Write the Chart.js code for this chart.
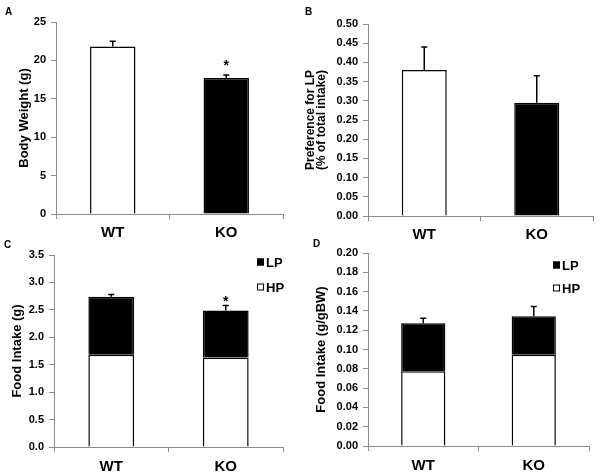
<!DOCTYPE html>
<html>
<head>
<meta charset="utf-8">
<script src="https://cdn.jsdelivr.net/npm/chart.js@4.4.1/dist/chart.umd.min.js"></script>
<style>
  body { margin: 0; background: #fff; width: 600px; height: 475px; position: relative; overflow: hidden; }
  canvas { position: absolute; }
</style>
</head>
<body>
<canvas id="chartA" width="300" height="250" style="left:0;top:0"></canvas>
<canvas id="chartB" width="300" height="250" style="left:300px;top:0"></canvas>
<canvas id="chartC" width="300" height="238" style="left:0;top:237px"></canvas>
<canvas id="chartD" width="300" height="238" style="left:300px;top:237px"></canvas>
<script>
// -------------------------
// DATA
// -------------------------

const groups = ['WT', 'KO'];

const bodyWeight = [21.8, 17.7];
const bodyWeightSem = [0.7, 0.4];
const bodyWeightStars = ['', '*'];
const bodyWeightTicks = [0, 5, 10, 15, 20, 25];

const lpPreference = [0.38, 0.295];
const lpPreferenceSem = [0.06, 0.07];
const lpPreferenceTicks = [0, 0.05, 0.10, 0.15, 0.20, 0.25, 0.30, 0.35, 0.40, 0.45, 0.50];

const intakeHP = [1.68, 1.63];
const intakeLP = [1.06, 0.86];
const intakeSem = [0.04, 0.09];
const intakeStars = ['', '*'];
const intakeTicks = [0, 0.5, 1.0, 1.5, 2.0, 2.5, 3.0, 3.5];

const intakeBwHP = [0.0775, 0.0945];
const intakeBwLP = [0.0498, 0.040];
const intakeBwSem = [0.005, 0.010];
const intakeBwTicks = [0, 0.02, 0.04, 0.06, 0.08, 0.10, 0.12, 0.14, 0.16, 0.18, 0.20];

// -------------------------
// SHARED STYLE
// -------------------------

const FONT = 'Arial, "Liberation Sans", sans-serif';
const AXIS = '#8c8c8c';

// error bars, asterisks, panel letter and the small LP/HP key
const extras = {
    id: 'extras',
    afterDatasetsDraw(chart, args, opts) {
        const { ctx, scales: { x, y } } = chart;
        const sets = chart.data.datasets;
        ctx.save();
        ctx.strokeStyle = '#000';
        ctx.fillStyle = '#000';
        ctx.lineWidth = 1.5;
        opts.sem.forEach((e, i) => {
            const total = sets.reduce((s, d) => s + d.data[i], 0);
            const px = x.getPixelForValue(i);
            const y0 = y.getPixelForValue(total);
            const y1 = y.getPixelForValue(total + e);
            ctx.beginPath();
            ctx.moveTo(px, y0);
            ctx.lineTo(px, y1);
            ctx.moveTo(px - 3, y1);
            ctx.lineTo(px + 3, y1);
            ctx.stroke();
            if (opts.stars && opts.stars[i]) {
                ctx.font = 'bold 14px ' + FONT;
                ctx.textAlign = 'center';
                ctx.textBaseline = 'alphabetic';
                ctx.fillText(opts.stars[i], px, y1 + opts.starGap);
            }
        });

        // panel letter
        ctx.font = 'bold 10px ' + FONT;
        ctx.textAlign = 'left';
        ctx.textBaseline = 'alphabetic';
        ctx.fillText(opts.letter, opts.letterX, opts.letterY);

        // key, top item = last dataset
        if (opts.key) {
            ctx.font = 'bold 13px ' + FONT;
            ctx.textBaseline = 'middle';
            ctx.lineWidth = 1;
            sets.slice().reverse().forEach((d, k) => {
                const cy = opts.key.y + k * opts.key.gap;
                ctx.fillStyle = d.backgroundColor;
                ctx.fillRect(opts.key.x, cy - 3.5, 7, 7);
                ctx.strokeStyle = '#000';
                ctx.strokeRect(opts.key.x + 0.5, cy - 3, 6, 6);
                ctx.fillStyle = '#000';
                ctx.fillText(d.label, opts.key.x + 9, cy + 1);
            });
        }
        ctx.restore();
    }
};

function makePanel(id, p) {
    return new Chart(document.getElementById(id), {
        type: 'bar',
        data: { labels: groups, datasets: p.datasets },
        options: {
            responsive: false,
            animation: false,
            devicePixelRatio: 1,
            layout: { padding: { top: p.padTop, right: p.padRight, left: 0, bottom: 0 } },
            datasets: { bar: { categoryPercentage: 1, barPercentage: 0.4, borderColor: '#000', borderWidth: 1.5 } },
            plugins: {
                legend: { display: false },
                tooltip: { enabled: false },
                extras: p.extras
            },
            scales: {
                x: {
                    stacked: true,
                    afterFit: s => { s.height = p.xHeight; },
                    grid: { drawOnChartArea: false, tickLength: 5, color: AXIS },
                    border: { color: AXIS },
                    ticks: { color: '#000', padding: p.xPad, font: { family: FONT, size: 15, weight: 'bold' } }
                },
                y: {
                    stacked: true,
                    min: 0,
                    max: p.ticks[p.ticks.length - 1],
                    afterFit: s => { s.width = p.yWidth; },
                    afterBuildTicks: s => { s.ticks = p.ticks.map(v => ({ value: v })); },
                    grid: { drawOnChartArea: false, tickLength: 5, color: AXIS },
                    border: { color: AXIS },
                    ticks: {
                        color: '#000',
                        padding: 5,
                        font: { family: FONT, size: 11, weight: 'bold' },
                        callback: v => Number(v).toFixed(p.decimals)
                    },
                    title: {
                        display: true,
                        text: p.title,
                        color: '#000',
                        padding: { top: p.titlePad, bottom: 0 },
                        font: { family: FONT, size: p.titleSize, weight: 'bold', lineHeight: p.titleLine }
                    }
                }
            }
        },
        plugins: [extras]
    });
}

// -------------------------
// PANELS
// -------------------------

makePanel('chartA', {
    datasets: [{ label: 'Body Weight', data: bodyWeight, backgroundColor: ['#ffffff', '#000000'] }],
    ticks: bodyWeightTicks, decimals: 0,
    title: 'Body Weight (g)', titleSize: 13, titleLine: 1, titlePad: 18,
    yWidth: 56, xHeight: 36, padTop: 22, padRight: 17, xPad: 5,
    extras: { sem: bodyWeightSem, stars: bodyWeightStars, starGap: -5, letter: 'A', letterX: 5, letterY: 15 }
});

makePanel('chartB', {
    datasets: [{ label: 'Preference for LP', data: lpPreference, backgroundColor: ['#ffffff', '#000000'] }],
    ticks: lpPreferenceTicks, decimals: 2,
    title: ['Preference for LP', '(% of total intake)'], titleSize: 12, titleLine: 0.95, titlePad: 5,
    yWidth: 68, xHeight: 34, padTop: 24, padRight: 7, xPad: 5,
    extras: { sem: lpPreferenceSem, letter: 'B', letterX: 5, letterY: 15 }
});

makePanel('chartC', {
    datasets: [
        { label: 'HP', data: intakeHP, backgroundColor: '#ffffff' },
        { label: 'LP', data: intakeLP, backgroundColor: '#000000' }
    ],
    ticks: intakeTicks, decimals: 1,
    title: 'Food Intake (g)', titleSize: 13, titleLine: 1, titlePad: 10.5,
    yWidth: 54, xHeight: 28, padTop: 18, padRight: 17, xPad: 6,
    extras: { sem: intakeSem, stars: intakeStars, starGap: 1, letter: 'C', letterX: 4, letterY: 11,
              key: { x: 257, y: 25, gap: 25 } }
});

makePanel('chartD', {
    datasets: [
        { label: 'HP', data: intakeBwHP, backgroundColor: '#ffffff' },
        { label: 'LP', data: intakeBwLP, backgroundColor: '#000000' }
    ],
    ticks: intakeBwTicks, decimals: 2,
    title: 'Food Intake (g/gBW)', titleSize: 13, titleLine: 1, titlePad: 14.5,
    yWidth: 68, xHeight: 29, padTop: 16, padRight: 11, xPad: 6,
    extras: { sem: intakeBwSem, letter: 'D', letterX: 13, letterY: 10,
              key: { x: 253, y: 28, gap: 23 } }
});
</script>
</body>
</html>
